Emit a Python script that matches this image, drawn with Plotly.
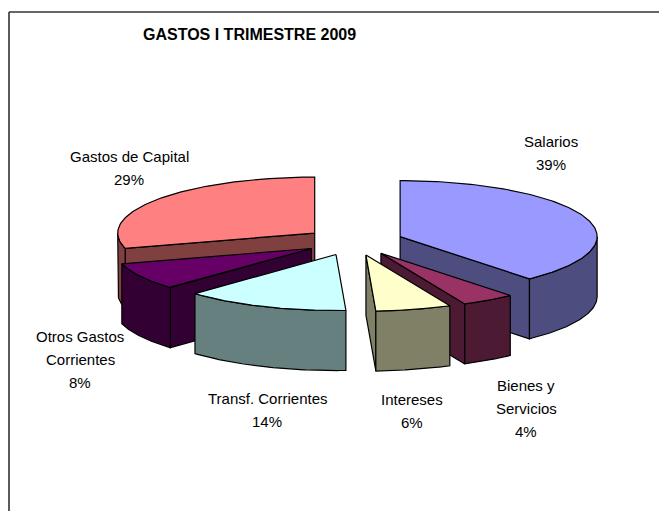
import numpy as np
import plotly.graph_objects as go

# --- data ---
categories = ["Salarios", "Bienes y Servicios", "Intereses", "Transf. Corrientes", "Otros Gastos Corrientes", "Gastos de Capital"]
values = [38.6, 4.4, 6.2, 13.5, 7.9, 29.4]
top_colors = ["#9999FF", "#993366", "#FFFFCC", "#CCFFFF", "#660066", "#FF8080"]
side_colors = ["#4D4D80", "#4D1A33", "#808066", "#668080", "#330033", "#804040"]
label_lines = [["Salarios"], ["Bienes y", "Servicios"], ["Intereses"], ["Transf. Corrientes"], ["Otros Gastos", "Corrientes"], ["Gastos de Capital"]]
label_centers = [(551, 141), (526, 385.5), (412, 399), (267, 398.5), (80, 336), (129, 156)]
title_text = "GASTOS I TRIMESTRE 2009"

# --- pie geometry ---
CX, CY, RX, RY, DEPTH, EXPLODE = 354, 241.5, 197, 56, 60, 0.25
LINE_GAP = 23
DRAW_ORDER = [5, 0, 4, 1, 2, 3]

total = sum(values)
edges = np.cumsum([0] + values) / total * 2 * np.pi

fig = go.Figure()


def add_poly(xs, ys, color):
    fig.add_trace(go.Scatter(x=list(xs) + [xs[0]], y=list(ys) + [ys[0]], mode="lines", fill="toself",
                             fillcolor=color, line=dict(color="black", width=1.2),
                             hoverinfo="skip", showlegend=False))


for i in DRAW_ORDER:
    a0, a1 = edges[i], edges[i + 1]
    mid = (a0 + a1) / 2
    ax = CX + EXPLODE * RX * np.sin(mid)
    ay = CY - EXPLODE * RY * np.cos(mid)
    px = lambda t: ax + RX * np.sin(t)
    py = lambda t: ay - RY * np.cos(t)
    # cut faces turned toward the viewer
    for a, visible in ((a0, np.sin(a0) < -1e-9), (a1, np.sin(a1) > 1e-9)):
        if visible:
            add_poly([ax, px(a), px(a), ax], [ay, py(a), py(a) + DEPTH, ay + DEPTH], side_colors[i])
    # outer rim, front half only
    lo, hi = max(a0, np.pi / 2), min(a1, 3 * np.pi / 2)
    if hi > lo:
        t = np.linspace(lo, hi, 80)
        add_poly(np.r_[px(t), px(t[::-1])], np.r_[py(t), py(t[::-1]) + DEPTH], side_colors[i])
    # top face
    t = np.linspace(a0, a1, 120)
    add_poly(np.r_[ax, px(t)], np.r_[ay, py(t)], top_colors[i])

annotations = []
FONT = dict(family="Liberation Sans, Arial, sans-serif", size=15, color="black")
for lines, (lx, ly), v in zip(label_lines, label_centers, values):
    for k, s in enumerate(lines + [f"{round(v / total * 100)}%"]):
        annotations.append(dict(x=lx, y=ly + k * LINE_GAP, text=s, showarrow=False, xref="x", yref="y",
                                xanchor="center", yanchor="middle", font=FONT))
annotations.append(dict(x=249, y=34, text=f"<b>{title_text}</b>", showarrow=False, xref="x", yref="y",
                        xanchor="center", yanchor="middle",
                        font=dict(family="Liberation Sans, Arial, sans-serif", size=16, color="black")))

fig.update_layout(
    width=659, height=511, margin=dict(l=0, r=0, t=0, b=0), autosize=False,
    paper_bgcolor="white", plot_bgcolor="white", showlegend=False,
    xaxis=dict(range=[0, 659], visible=False, fixedrange=True),
    yaxis=dict(range=[511, 0], visible=False, fixedrange=True),
    annotations=annotations,
    shapes=[
        dict(type="line", x0=9, x1=9, y0=12, y1=511, line=dict(color="#333333", width=1.6), xref="x", yref="y"),
        dict(type="line", x0=9, x1=659, y0=12, y1=12, line=dict(color="#333333", width=1.6), xref="x", yref="y"),
    ],
)
fig.write_html("out.html", config=dict(displayModeBar=False),
               post_script="document.body.style.margin='0';document.body.style.overflow='hidden';")
